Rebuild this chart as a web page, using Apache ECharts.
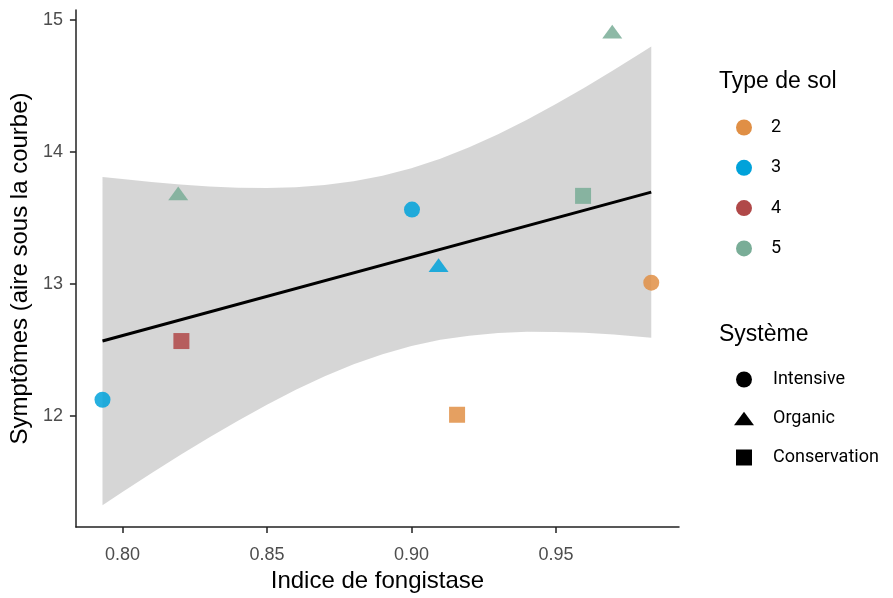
<!DOCTYPE html>
<html>
<head>
<meta charset="utf-8">
<script src="https://cdn.jsdelivr.net/npm/echarts@6/dist/echarts.min.js"></script>
<style>html,body{margin:0;padding:0;background:#fff}#c{width:893px;height:598px}</style>
</head>
<body>
<div id="c"></div>
<script>
// ---- data ----
var indice   = [0.7931, 0.8204, 0.8193, 0.9002, 0.9094, 0.9158, 0.9594, 0.9695, 0.9830];
var symptoms = [12.12, 12.565, 13.685, 13.562, 13.141, 12.006, 13.666, 14.912, 13.008];
var soilType = ['3', '4', '5', '3', '3', '2', '5', '5', '2'];
var systeme  = ['Intensive', 'Conservation', 'Organic', 'Intensive', 'Organic', 'Conservation', 'Conservation', 'Organic', 'Intensive'];

var soilLevels   = ['2', '3', '4', '5'];
var systemLevels = ['Intensive', 'Organic', 'Conservation'];

// regression line end points
var fitX = [0.7931, 0.9830];
var fitY = [12.565, 13.694];

// confidence band
var bandX  = [0.7931, 0.80, 0.81, 0.82, 0.83, 0.84, 0.85, 0.86, 0.87, 0.88, 0.89, 0.90, 0.91, 0.92, 0.93, 0.94, 0.95, 0.96, 0.97, 0.98, 0.9830];
var bandHi = [13.81, 13.794, 13.771, 13.752, 13.738, 13.728, 13.726, 13.732, 13.748, 13.776, 13.818, 13.875, 13.947, 14.034, 14.133, 14.243, 14.362, 14.488, 14.620, 14.757, 14.798];
var bandLo = [11.32, 11.420, 11.562, 11.700, 11.833, 11.961, 12.082, 12.195, 12.298, 12.389, 12.465, 12.527, 12.574, 12.606, 12.626, 12.635, 12.634, 12.627, 12.614, 12.596, 12.590];

var xTicks = [0.80, 0.85, 0.90, 0.95];
var yTicks = [12, 13, 14, 15];

// ---- styles ----
var soilColors = {'2': '#E08F45', '3': '#00A2DA', '4': '#B04848', '5': '#79AD97'};
var triPath = 'path://M0,13L9.5,0L19,13Z';
var sqPath = 'path://M0,0L1,0L1,1L0,1Z';
var systemSymbol = {'Intensive': 'circle', 'Organic': triPath, 'Conservation': sqPath};
var systemSize = {'Intensive': 16, 'Organic': 20, 'Conservation': 16};

var chart = echarts.init(document.getElementById('c'), null, {renderer: 'canvas'});

var series = [];
// confidence band as a polygon
series.push({
  type: 'custom',
  name: 'band',
  silent: true,
  z: 1,
  data: bandX.map(function (x, i) { return [x, bandLo[i], bandHi[i]]; }),
  encode: {x: 0, y: [1, 2]},
  renderItem: function (params, api) {
    if (params.dataIndex !== 0) return null;
    var pts = [];
    for (var i = 0; i < bandX.length; i++) pts.push(api.coord([bandX[i], bandHi[i]]));
    for (var j = bandX.length - 1; j >= 0; j--) pts.push(api.coord([bandX[j], bandLo[j]]));
    return {type: 'polygon', shape: {points: pts}, style: {fill: 'rgba(153,153,153,0.4)', stroke: null}};
  }
});
// regression line
series.push({
  type: 'line',
  name: 'fit',
  z: 2,
  silent: true,
  symbol: 'none',
  data: fitX.map(function (x, i) { return [x, fitY[i]]; }),
  lineStyle: {color: '#000', width: 3}
});
// points, one series per soil type
soilLevels.forEach(function (s) {
  var d = [];
  for (var i = 0; i < indice.length; i++) {
    if (soilType[i] === s) {
      d.push({value: [indice[i], symptoms[i]], symbol: systemSymbol[systeme[i]], symbolSize: systemSize[systeme[i]]});
    }
  }
  series.push({
    type: 'scatter', name: s, z: 3, data: d, symbolKeepAspect: true,
    itemStyle: {color: soilColors[s], opacity: 0.85}
  });
});
// legend-only series for the system shapes
systemLevels.forEach(function (s) {
  series.push({type: 'scatter', name: s, data: [], symbol: systemSymbol[s], symbolKeepAspect: true, itemStyle: {color: '#000', opacity: 1}});
});

var legendText = {fontFamily: 'Roboto, "Liberation Sans", Arial, sans-serif', fontSize: 18, color: '#000', padding: [0, 0, 0, 14]};
var titleText = {fontFamily: '"Liberation Sans", Arial, sans-serif', fontSize: 23, fontWeight: 'normal', color: '#000'};

chart.setOption({
  animation: false,
  backgroundColor: '#fff',
  textStyle: {fontFamily: '"Liberation Sans", Arial, sans-serif'},
  title: [
    {text: 'Type de sol', left: 719, top: 70, padding: 0, textStyle: titleText},
    {text: 'Système', left: 719, top: 323, padding: 0, textStyle: titleText}
  ],
  legend: [
    {
      orient: 'vertical', left: 731, top: 113.5, itemGap: 22.3, selectedMode: false,
      itemWidth: 16, itemHeight: 16, icon: 'circle',
      data: soilLevels.map(function (s) { return {name: s, icon: 'circle', itemStyle: {color: soilColors[s], opacity: 1}}; }),
      textStyle: legendText
    },
    {
      orient: 'vertical', left: 729, top: 365.5, itemGap: 21, selectedMode: false,
      itemWidth: 20, itemHeight: 16, symbolKeepAspect: true,
      data: systemLevels.map(function (s) { return {name: s, icon: systemSymbol[s], itemStyle: {color: '#000', opacity: 1}}; }),
      textStyle: legendText
    }
  ],
  grid: {left: 75, right: 214, top: 10, bottom: 69, containLabel: false},
  xAxis: {
    type: 'value', min: 0.7839, max: 0.9926,
    name: 'Indice de fongistase', nameLocation: 'middle', nameGap: 39,
    nameTextStyle: {fontSize: 24, color: '#000'},
    splitLine: {show: false},
    axisLine: {show: true, onZero: false, lineStyle: {color: '#222', width: 1.5}},
    axisTick: {show: true, length: 6, customValues: xTicks, lineStyle: {color: '#222', width: 1.5}},
    axisLabel: {customValues: xTicks, fontSize: 18, color: '#4D4D4D', margin: 19,
      formatter: function (v) { return v.toFixed(2); }}
  },
  yAxis: {
    type: 'value', min: 11.154, max: 15.0756,
    name: 'Symptômes (aire sous la courbe)', nameLocation: 'middle', nameGap: 42,
    nameTextStyle: {fontSize: 24, color: '#000'},
    splitLine: {show: false},
    axisLine: {show: true, onZero: false, lineStyle: {color: '#222', width: 1.5}},
    axisTick: {show: true, length: 6, customValues: yTicks, lineStyle: {color: '#222', width: 1.5}},
    axisLabel: {customValues: yTicks, fontSize: 18, color: '#4D4D4D', margin: 13,
      formatter: function (v) { return String(Math.round(v)); }}
  },
  series: series
});
</script>
</body>
</html>
